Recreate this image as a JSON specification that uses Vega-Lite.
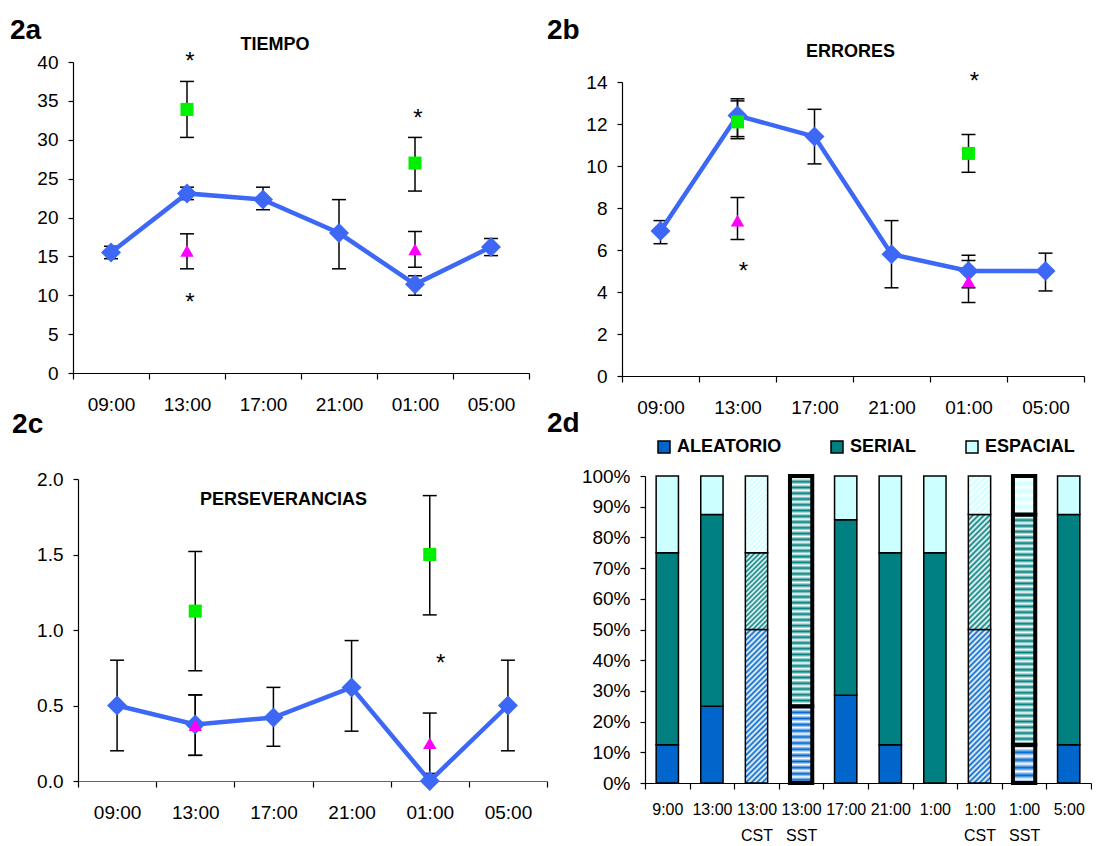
{
  "$schema": "https://vega.github.io/schema/vega-lite/v6.json",
  "background": "white",
  "padding": {"left": 10, "top": 16, "right": 0, "bottom": 0},
  "config": {
    "font": "Liberation Sans",
    "view": {"stroke": null},
    "axis": {"grid": false, "domainColor": "#000", "tickColor": "#000", "labelColor": "#000", "labelFont": "Liberation Sans", "labelFontSize": 19, "tickSize": 5, "labelPadding": 10, "title": null, "domainWidth": 1.2, "tickWidth": 1.2},
    "axisX": {"labelAngle": 0, "tickBand": "extent", "tickSize": 6, "labelPadding": 16}
  },
  "datasets": {
    "tiempo": [
      {"hora": "09:00", "serie": "Global", "media": 15.5, "lo": 14.7, "hi": 16.3},
      {"hora": "13:00", "serie": "Global", "media": 23.1, "lo": 22.3, "hi": 23.9},
      {"hora": "17:00", "serie": "Global", "media": 22.3, "lo": 21.0, "hi": 23.9},
      {"hora": "21:00", "serie": "Global", "media": 18.0, "lo": 13.4, "hi": 22.3},
      {"hora": "01:00", "serie": "Global", "media": 11.4, "lo": 10.0, "hi": 12.5},
      {"hora": "05:00", "serie": "Global", "media": 16.2, "lo": 15.1, "hi": 17.3},
      {"hora": "13:00", "serie": "CST", "media": 33.9, "lo": 30.3, "hi": 37.5},
      {"hora": "01:00", "serie": "CST", "media": 27.0, "lo": 23.4, "hi": 30.3},
      {"hora": "13:00", "serie": "SST", "media": 15.7, "lo": 13.4, "hi": 17.9},
      {"hora": "01:00", "serie": "SST", "media": 15.9, "lo": 13.6, "hi": 18.2}
    ],
    "tiempo_ast": [
      {"hora": "13:00", "y": 40.7, "t": "*"},
      {"hora": "13:00", "y": 9.7, "t": "*"},
      {"hora": "01:00", "y": 33.3, "t": "*"}
    ],
    "errores": [
      {"hora": "09:00", "serie": "Global", "media": 6.9, "lo": 6.3, "hi": 7.4},
      {"hora": "13:00", "serie": "Global", "media": 12.4, "lo": 11.4, "hi": 13.2},
      {"hora": "17:00", "serie": "Global", "media": 11.4, "lo": 10.1, "hi": 12.7},
      {"hora": "21:00", "serie": "Global", "media": 5.8, "lo": 4.2, "hi": 7.4},
      {"hora": "01:00", "serie": "Global", "media": 5.0, "lo": 4.2, "hi": 5.75},
      {"hora": "05:00", "serie": "Global", "media": 5.0, "lo": 4.05, "hi": 5.85},
      {"hora": "13:00", "serie": "CST", "media": 12.1, "lo": 11.3, "hi": 13.1},
      {"hora": "01:00", "serie": "CST", "media": 10.6, "lo": 9.7, "hi": 11.5},
      {"hora": "13:00", "serie": "SST", "media": 7.4, "lo": 6.5, "hi": 8.5},
      {"hora": "01:00", "serie": "SST", "media": 4.5, "lo": 3.5, "hi": 5.5}
    ],
    "errores_ast": [
      {"hora": "01:00", "y": 14.25, "t": "*"},
      {"hora": "13:00", "y": 5.2, "t": "*"}
    ],
    "persev": [
      {"hora": "09:00", "serie": "Global", "media": 0.5, "lo": 0.2, "hi": 0.8},
      {"hora": "13:00", "serie": "Global", "media": 0.375, "lo": 0.17, "hi": 0.57},
      {"hora": "17:00", "serie": "Global", "media": 0.42, "lo": 0.23, "hi": 0.62},
      {"hora": "21:00", "serie": "Global", "media": 0.62, "lo": 0.33, "hi": 0.93},
      {"hora": "01:00", "serie": "Global", "media": 0.0, "lo": 0.0, "hi": 0.0},
      {"hora": "05:00", "serie": "Global", "media": 0.5, "lo": 0.2, "hi": 0.8},
      {"hora": "13:00", "serie": "CST", "media": 1.125, "lo": 0.73, "hi": 1.52},
      {"hora": "01:00", "serie": "CST", "media": 1.5, "lo": 1.1, "hi": 1.89},
      {"hora": "13:00", "serie": "SST", "media": 0.37, "lo": 0.17, "hi": 0.57},
      {"hora": "01:00", "serie": "SST", "media": 0.25, "lo": 0.05, "hi": 0.45}
    ],
    "persev_ast": [
      {"hora": "01:00", "y": 0.81, "t": "*"}
    ],
    "patrones": [
      {"cat": "9:00", "tipo": "ALEATORIO", "valor": 0.125},
      {"cat": "9:00", "tipo": "SERIAL", "valor": 0.625},
      {"cat": "9:00", "tipo": "ESPACIAL", "valor": 0.25},
      {"cat": "13:00", "tipo": "ALEATORIO", "valor": 0.25},
      {"cat": "13:00", "tipo": "SERIAL", "valor": 0.625},
      {"cat": "13:00", "tipo": "ESPACIAL", "valor": 0.125},
      {"cat": "13:00 CST", "tipo": "ALEATORIO", "valor": 0.5},
      {"cat": "13:00 CST", "tipo": "SERIAL", "valor": 0.25},
      {"cat": "13:00 CST", "tipo": "ESPACIAL", "valor": 0.25},
      {"cat": "13:00 SST", "tipo": "ALEATORIO", "valor": 0.25},
      {"cat": "13:00 SST", "tipo": "SERIAL", "valor": 0.75},
      {"cat": "17:00", "tipo": "ALEATORIO", "valor": 0.2857},
      {"cat": "17:00", "tipo": "SERIAL", "valor": 0.5714},
      {"cat": "17:00", "tipo": "ESPACIAL", "valor": 0.1429},
      {"cat": "21:00", "tipo": "ALEATORIO", "valor": 0.125},
      {"cat": "21:00", "tipo": "SERIAL", "valor": 0.625},
      {"cat": "21:00", "tipo": "ESPACIAL", "valor": 0.25},
      {"cat": "1:00", "tipo": "SERIAL", "valor": 0.75},
      {"cat": "1:00", "tipo": "ESPACIAL", "valor": 0.25},
      {"cat": "1:00 CST", "tipo": "ALEATORIO", "valor": 0.5},
      {"cat": "1:00 CST", "tipo": "SERIAL", "valor": 0.375},
      {"cat": "1:00 CST", "tipo": "ESPACIAL", "valor": 0.125},
      {"cat": "1:00 SST", "tipo": "ALEATORIO", "valor": 0.125},
      {"cat": "1:00 SST", "tipo": "SERIAL", "valor": 0.75},
      {"cat": "1:00 SST", "tipo": "ESPACIAL", "valor": 0.125},
      {"cat": "5:00", "tipo": "ALEATORIO", "valor": 0.125},
      {"cat": "5:00", "tipo": "SERIAL", "valor": 0.75},
      {"cat": "5:00", "tipo": "ESPACIAL", "valor": 0.125}
    ]
  },
  "columns": 2,
  "align": "none",
  "spacing": {"row": -7, "column": -1},
  "resolve": {"scale": {"color": "independent"}, "legend": {"color": "independent"}},
  "concat": [
    {
      "width": 456, "height": 311,
      "data": {"name": "tiempo"},
      "encoding": {
        "x": {"field": "hora", "type": "nominal", "sort": ["09:00", "13:00", "17:00", "21:00", "01:00", "05:00"], "scale": {"type": "band", "paddingInner": 0, "paddingOuter": 0}}
      },
      "layer": [
        {"mark": {"type": "rule", "color": "#000", "strokeWidth": 1.5},
         "encoding": {"y": {"field": "lo", "type": "quantitative", "scale": {"domain": [0, 40], "nice": false}, "axis": {"values": [0, 5, 10, 15, 20, 25, 30, 35, 40]}}, "y2": {"field": "hi"}}},
        {"mark": {"type": "tick", "color": "#000", "thickness": 1.5, "size": 14, "opacity": 1}, "encoding": {"y": {"field": "lo", "type": "quantitative", "scale": {"domain": [0, 40], "nice": false}, "axis": {"values": [0, 5, 10, 15, 20, 25, 30, 35, 40]}}}},
        {"mark": {"type": "tick", "color": "#000", "thickness": 1.5, "size": 14, "opacity": 1}, "encoding": {"y": {"field": "hi", "type": "quantitative", "scale": {"domain": [0, 40], "nice": false}, "axis": {"values": [0, 5, 10, 15, 20, 25, 30, 35, 40]}}}},
        {"transform": [{"filter": "datum.serie == 'Global'"}], "mark": {"type": "line", "color": "#3D68F5", "strokeWidth": 4.5}, "encoding": {"y": {"field": "media", "type": "quantitative", "scale": {"domain": [0, 40], "nice": false}, "axis": {"values": [0, 5, 10, 15, 20, 25, 30, 35, 40]}}}},
        {"transform": [{"filter": "datum.serie == 'Global'"}], "mark": {"type": "point", "shape": "diamond", "filled": true, "opacity": 1, "color": "#3D68F5", "size": 400}, "encoding": {"y": {"field": "media", "type": "quantitative", "scale": {"domain": [0, 40], "nice": false}, "axis": {"values": [0, 5, 10, 15, 20, 25, 30, 35, 40]}}}},
        {"transform": [{"filter": "datum.serie == 'CST'"}], "mark": {"type": "point", "shape": "square", "filled": true, "opacity": 1, "color": "#00F000", "size": 170}, "encoding": {"y": {"field": "media", "type": "quantitative", "scale": {"domain": [0, 40], "nice": false}, "axis": {"values": [0, 5, 10, 15, 20, 25, 30, 35, 40]}}}},
        {"transform": [{"filter": "datum.serie == 'SST'"}], "mark": {"type": "point", "shape": "triangle-up", "filled": true, "opacity": 1, "color": "#FF00FF", "size": 180}, "encoding": {"y": {"field": "media", "type": "quantitative", "scale": {"domain": [0, 40], "nice": false}, "axis": {"values": [0, 5, 10, 15, 20, 25, 30, 35, 40]}}}},
        {"data": {"name": "tiempo_ast"}, "mark": {"type": "text", "fontSize": 24, "dx": 3, "dy": 12, "baseline": "alphabetic", "color": "#000"}, "encoding": {"y": {"field": "y", "type": "quantitative", "scale": {"domain": [0, 40], "nice": false}, "axis": {"values": [0, 5, 10, 15, 20, 25, 30, 35, 40]}}, "text": {"field": "t"}}},
        {"data": {"values": [{"hora": "17:00", "y": 42.2, "t": "TIEMPO"}]}, "mark": {"type": "text", "fontSize": 18, "fontWeight": "bold", "dx": 12, "baseline": "middle", "color": "#000"}, "encoding": {"y": {"field": "y", "type": "quantitative", "scale": {"domain": [0, 40], "nice": false}, "axis": {"values": [0, 5, 10, 15, 20, 25, 30, 35, 40]}}, "text": {"field": "t"}}},
        {"data": {"values": [{"hora": "09:00", "y": 43.02, "t": "2a"}]}, "mark": {"type": "text", "fontSize": 28, "fontWeight": "bold", "align": "left", "dx": -101, "baseline": "alphabetic", "color": "#000"}, "encoding": {"y": {"field": "y", "type": "quantitative", "scale": {"domain": [0, 40], "nice": false}, "axis": {"values": [0, 5, 10, 15, 20, 25, 30, 35, 40]}}, "text": {"field": "t"}}}
      ]
    },
    {
      "width": 462, "height": 314,
      "data": {"name": "errores"},
      "encoding": {
        "x": {"field": "hora", "type": "nominal", "sort": ["09:00", "13:00", "17:00", "21:00", "01:00", "05:00"], "scale": {"type": "band", "paddingInner": 0, "paddingOuter": 0}}
      },
      "layer": [
        {"mark": {"type": "rule", "color": "#000", "strokeWidth": 1.5},
         "encoding": {"y": {"field": "lo", "type": "quantitative", "scale": {"domain": [0, 14], "nice": false, "range": [314, 20]}, "axis": {"values": [0, 2, 4, 6, 8, 10, 12, 14]}}, "y2": {"field": "hi"}}},
        {"mark": {"type": "tick", "color": "#000", "thickness": 1.5, "size": 14, "opacity": 1}, "encoding": {"y": {"field": "lo", "type": "quantitative", "scale": {"domain": [0, 14], "nice": false, "range": [314, 20]}, "axis": {"values": [0, 2, 4, 6, 8, 10, 12, 14]}}}},
        {"mark": {"type": "tick", "color": "#000", "thickness": 1.5, "size": 14, "opacity": 1}, "encoding": {"y": {"field": "hi", "type": "quantitative", "scale": {"domain": [0, 14], "nice": false, "range": [314, 20]}, "axis": {"values": [0, 2, 4, 6, 8, 10, 12, 14]}}}},
        {"transform": [{"filter": "datum.serie == 'Global'"}], "mark": {"type": "line", "color": "#3D68F5", "strokeWidth": 4.5}, "encoding": {"y": {"field": "media", "type": "quantitative", "scale": {"domain": [0, 14], "nice": false, "range": [314, 20]}, "axis": {"values": [0, 2, 4, 6, 8, 10, 12, 14]}}}},
        {"transform": [{"filter": "datum.serie == 'Global'"}], "mark": {"type": "point", "shape": "diamond", "filled": true, "opacity": 1, "color": "#3D68F5", "size": 400}, "encoding": {"y": {"field": "media", "type": "quantitative", "scale": {"domain": [0, 14], "nice": false, "range": [314, 20]}, "axis": {"values": [0, 2, 4, 6, 8, 10, 12, 14]}}}},
        {"transform": [{"filter": "datum.serie == 'CST'"}], "mark": {"type": "point", "shape": "square", "filled": true, "opacity": 1, "color": "#00F000", "size": 170}, "encoding": {"y": {"field": "media", "type": "quantitative", "scale": {"domain": [0, 14], "nice": false, "range": [314, 20]}, "axis": {"values": [0, 2, 4, 6, 8, 10, 12, 14]}}}},
        {"transform": [{"filter": "datum.serie == 'SST'"}], "mark": {"type": "point", "shape": "triangle-up", "filled": true, "opacity": 1, "color": "#FF00FF", "size": 180}, "encoding": {"y": {"field": "media", "type": "quantitative", "scale": {"domain": [0, 14], "nice": false, "range": [314, 20]}, "axis": {"values": [0, 2, 4, 6, 8, 10, 12, 14]}}}},
        {"data": {"name": "errores_ast"}, "mark": {"type": "text", "fontSize": 24, "dx": 6, "dy": 12, "baseline": "alphabetic", "color": "#000"}, "encoding": {"y": {"field": "y", "type": "quantitative", "scale": {"domain": [0, 14], "nice": false, "range": [314, 20]}, "axis": {"values": [0, 2, 4, 6, 8, 10, 12, 14]}}, "text": {"field": "t"}}},
        {"data": {"values": [{"hora": "17:00", "y": 15.43, "t": "ERRORES"}]}, "mark": {"type": "text", "fontSize": 18, "fontWeight": "bold", "dx": 36, "baseline": "middle", "color": "#000"}, "encoding": {"y": {"field": "y", "type": "quantitative", "scale": {"domain": [0, 14], "nice": false, "range": [314, 20]}, "axis": {"values": [0, 2, 4, 6, 8, 10, 12, 14]}}, "text": {"field": "t"}}},
        {"data": {"values": [{"hora": "09:00", "y": 16.07, "t": "2b"}]}, "mark": {"type": "text", "fontSize": 28, "fontWeight": "bold", "align": "left", "dx": -113.5, "baseline": "alphabetic", "color": "#000"}, "encoding": {"y": {"field": "y", "type": "quantitative", "scale": {"domain": [0, 14], "nice": false, "range": [314, 20]}, "axis": {"values": [0, 2, 4, 6, 8, 10, 12, 14]}}, "text": {"field": "t"}}}
      ]
    },
    {
      "width": 474, "height": 304,
      "data": {"name": "persev"},
      "encoding": {
        "x": {"field": "hora", "type": "nominal", "sort": ["09:00", "13:00", "17:00", "21:00", "01:00", "05:00"], "scale": {"type": "band", "paddingInner": 0, "paddingOuter": 0, "range": [5, 474]}, "axis": {"domainColor": "#666"}}
      },
      "layer": [
        {"mark": {"type": "rule", "color": "#000", "strokeWidth": 1.5},
         "encoding": {"y": {"field": "lo", "type": "quantitative", "scale": {"domain": [0, 2], "nice": false, "range": [304, 2]}, "axis": {"values": [0, 0.5, 1, 1.5, 2], "format": ".1f", "offset": -5}}, "y2": {"field": "hi"}}},
        {"mark": {"type": "tick", "color": "#000", "thickness": 1.5, "size": 14, "opacity": 1}, "encoding": {"y": {"field": "lo", "type": "quantitative", "scale": {"domain": [0, 2], "nice": false, "range": [304, 2]}, "axis": {"values": [0, 0.5, 1, 1.5, 2], "format": ".1f", "offset": -5}}}},
        {"mark": {"type": "tick", "color": "#000", "thickness": 1.5, "size": 14, "opacity": 1}, "encoding": {"y": {"field": "hi", "type": "quantitative", "scale": {"domain": [0, 2], "nice": false, "range": [304, 2]}, "axis": {"values": [0, 0.5, 1, 1.5, 2], "format": ".1f", "offset": -5}}}},
        {"transform": [{"filter": "datum.serie == 'Global'"}], "mark": {"type": "line", "color": "#3D68F5", "strokeWidth": 4.5}, "encoding": {"y": {"field": "media", "type": "quantitative", "scale": {"domain": [0, 2], "nice": false, "range": [304, 2]}, "axis": {"values": [0, 0.5, 1, 1.5, 2], "format": ".1f", "offset": -5}}}},
        {"transform": [{"filter": "datum.serie == 'Global'"}], "mark": {"type": "point", "shape": "diamond", "filled": true, "opacity": 1, "color": "#3D68F5", "size": 400}, "encoding": {"y": {"field": "media", "type": "quantitative", "scale": {"domain": [0, 2], "nice": false, "range": [304, 2]}, "axis": {"values": [0, 0.5, 1, 1.5, 2], "format": ".1f", "offset": -5}}}},
        {"transform": [{"filter": "datum.serie == 'CST'"}], "mark": {"type": "point", "shape": "square", "filled": true, "opacity": 1, "color": "#00F000", "size": 170}, "encoding": {"y": {"field": "media", "type": "quantitative", "scale": {"domain": [0, 2], "nice": false, "range": [304, 2]}, "axis": {"values": [0, 0.5, 1, 1.5, 2], "format": ".1f", "offset": -5}}}},
        {"transform": [{"filter": "datum.serie == 'SST'"}], "mark": {"type": "point", "shape": "triangle-up", "filled": true, "opacity": 1, "color": "#FF00FF", "size": 180}, "encoding": {"y": {"field": "media", "type": "quantitative", "scale": {"domain": [0, 2], "nice": false, "range": [304, 2]}, "axis": {"values": [0, 0.5, 1, 1.5, 2], "format": ".1f", "offset": -5}}}},
        {"data": {"name": "persev_ast"}, "mark": {"type": "text", "fontSize": 24, "dx": 11, "dy": 12, "baseline": "alphabetic", "color": "#000"}, "encoding": {"y": {"field": "y", "type": "quantitative", "scale": {"domain": [0, 2], "nice": false, "range": [304, 2]}, "axis": {"values": [0, 0.5, 1, 1.5, 2], "format": ".1f", "offset": -5}}, "text": {"field": "t"}}},
        {"data": {"values": [{"hora": "17:00", "y": 1.861, "t": "PERSEVERANCIAS"}]}, "mark": {"type": "text", "fontSize": 18, "fontWeight": "bold", "dx": 10, "baseline": "middle", "color": "#000"}, "encoding": {"y": {"field": "y", "type": "quantitative", "scale": {"domain": [0, 2], "nice": false, "range": [304, 2]}, "axis": {"values": [0, 0.5, 1, 1.5, 2], "format": ".1f", "offset": -5}}, "text": {"field": "t"}}},
        {"data": {"values": [{"hora": "09:00", "y": 2.305, "t": "2c"}]}, "mark": {"type": "text", "fontSize": 28, "fontWeight": "bold", "align": "left", "dx": -105, "baseline": "alphabetic", "color": "#000"}, "encoding": {"y": {"field": "y", "type": "quantitative", "scale": {"domain": [0, 2], "nice": false, "range": [304, 2]}, "axis": {"values": [0, 0.5, 1, 1.5, 2], "format": ".1f", "offset": -5}}, "text": {"field": "t"}}}
      ]
    },
    {
      "width": 469, "height": 307,
      "encoding": {
        "x": {"field": "cat", "type": "nominal", "sort": ["9:00", "13:00", "13:00 CST", "13:00 SST", "17:00", "21:00", "1:00", "1:00 CST", "1:00 SST", "5:00"], "scale": {"type": "band", "paddingInner": 0, "paddingOuter": 0, "range": [23, 469]},
              "axis": {"labelExpr": "split(datum.label, ' ')", "labelFontSize": 16, "labelLineHeight": 26, "labelPadding": 12}}
      },
      "layer": [
        {
          "data": {"name": "patrones"},
          "transform": [{"calculate": "indexof(['ALEATORIO', 'SERIAL', 'ESPACIAL'], datum.tipo)", "as": "orden"}],
          "mark": {"type": "bar", "stroke": "#000", "width": {"band": 0.5}},
          "encoding": {
            "y": {"field": "valor", "type": "quantitative", "stack": "normalize", "scale": {"domain": [0, 1], "nice": false},
                  "axis": {"format": ".0%", "values": [0, 0.1, 0.2, 0.3, 0.4, 0.5, 0.6, 0.7, 0.8, 0.9, 1], "offset": -23}},
            "order": {"field": "orden", "type": "quantitative", "sort": "ascending"},
            "color": {
              "condition": [
                {"test": "datum.cat == '13:00 SST' && datum.tipo == 'ALEATORIO'", "value": {"gradient": "linear", "x1": 0, "y1": 0, "x2": 0, "y2": 1, "stops": [
                  {"offset": 0, "color": "#0066CC"}, {"offset": 0.04, "color": "#FFFFFF"}, {"offset": 0.08, "color": "#0066CC"}, {"offset": 0.12, "color": "#FFFFFF"}, {"offset": 0.16, "color": "#0066CC"}, {"offset": 0.2, "color": "#FFFFFF"}, {"offset": 0.24, "color": "#0066CC"}, {"offset": 0.28, "color": "#FFFFFF"}, {"offset": 0.32, "color": "#0066CC"}, {"offset": 0.36, "color": "#FFFFFF"}, {"offset": 0.4, "color": "#0066CC"}, {"offset": 0.44, "color": "#FFFFFF"}, {"offset": 0.48, "color": "#0066CC"}, {"offset": 0.52, "color": "#FFFFFF"}, {"offset": 0.56, "color": "#0066CC"}, {"offset": 0.6, "color": "#FFFFFF"}, {"offset": 0.64, "color": "#0066CC"}, {"offset": 0.68, "color": "#FFFFFF"}, {"offset": 0.72, "color": "#0066CC"}, {"offset": 0.76, "color": "#FFFFFF"}, {"offset": 0.8, "color": "#0066CC"}, {"offset": 0.84, "color": "#FFFFFF"}, {"offset": 0.88, "color": "#0066CC"}, {"offset": 0.92, "color": "#FFFFFF"}, {"offset": 0.96, "color": "#0066CC"}, {"offset": 1, "color": "#FFFFFF"}]}},
                {"test": "datum.cat == '1:00 SST' && datum.tipo == 'ALEATORIO'", "value": {"gradient": "linear", "x1": 0, "y1": 0, "x2": 0, "y2": 1, "stops": [
                  {"offset": 0, "color": "#0066CC"}, {"offset": 0.1, "color": "#FFFFFF"}, {"offset": 0.2, "color": "#0066CC"}, {"offset": 0.3, "color": "#FFFFFF"}, {"offset": 0.4, "color": "#0066CC"}, {"offset": 0.5, "color": "#FFFFFF"}, {"offset": 0.6, "color": "#0066CC"}, {"offset": 0.7, "color": "#FFFFFF"}, {"offset": 0.8, "color": "#0066CC"}, {"offset": 0.9, "color": "#FFFFFF"}, {"offset": 1, "color": "#0066CC"}]}},
                {"test": "datum.cat == '1:00 SST' && datum.tipo == 'ESPACIAL'", "value": {"gradient": "linear", "x1": 0, "y1": 0, "x2": 0, "y2": 1, "stops": [
                  {"offset": 0, "color": "#CCFFFF"}, {"offset": 0.1, "color": "#FFFFFF"}, {"offset": 0.2, "color": "#CCFFFF"}, {"offset": 0.3, "color": "#FFFFFF"}, {"offset": 0.4, "color": "#CCFFFF"}, {"offset": 0.5, "color": "#FFFFFF"}, {"offset": 0.6, "color": "#CCFFFF"}, {"offset": 0.7, "color": "#FFFFFF"}, {"offset": 0.8, "color": "#CCFFFF"}, {"offset": 0.9, "color": "#FFFFFF"}, {"offset": 1, "color": "#CCFFFF"}]}},
                {"test": "indexof(datum.cat, 'SST') >= 0 && datum.tipo == 'SERIAL'", "value": {"gradient": "linear", "x1": 0, "y1": 0, "x2": 0, "y2": 1, "stops": [
                  {"offset": 0, "color": "#008080"}, {"offset": 0.0125, "color": "#FFFFFF"}, {"offset": 0.025, "color": "#008080"}, {"offset": 0.0375, "color": "#FFFFFF"}, {"offset": 0.05, "color": "#008080"}, {"offset": 0.0625, "color": "#FFFFFF"}, {"offset": 0.075, "color": "#008080"}, {"offset": 0.0875, "color": "#FFFFFF"}, {"offset": 0.1, "color": "#008080"}, {"offset": 0.1125, "color": "#FFFFFF"},
                  {"offset": 0.125, "color": "#008080"}, {"offset": 0.1375, "color": "#FFFFFF"}, {"offset": 0.15, "color": "#008080"}, {"offset": 0.1625, "color": "#FFFFFF"}, {"offset": 0.175, "color": "#008080"}, {"offset": 0.1875, "color": "#FFFFFF"}, {"offset": 0.2, "color": "#008080"}, {"offset": 0.2125, "color": "#FFFFFF"}, {"offset": 0.225, "color": "#008080"}, {"offset": 0.2375, "color": "#FFFFFF"},
                  {"offset": 0.25, "color": "#008080"}, {"offset": 0.2625, "color": "#FFFFFF"}, {"offset": 0.275, "color": "#008080"}, {"offset": 0.2875, "color": "#FFFFFF"}, {"offset": 0.3, "color": "#008080"}, {"offset": 0.3125, "color": "#FFFFFF"}, {"offset": 0.325, "color": "#008080"}, {"offset": 0.3375, "color": "#FFFFFF"}, {"offset": 0.35, "color": "#008080"}, {"offset": 0.3625, "color": "#FFFFFF"},
                  {"offset": 0.375, "color": "#008080"}, {"offset": 0.3875, "color": "#FFFFFF"}, {"offset": 0.4, "color": "#008080"}, {"offset": 0.4125, "color": "#FFFFFF"}, {"offset": 0.425, "color": "#008080"}, {"offset": 0.4375, "color": "#FFFFFF"}, {"offset": 0.45, "color": "#008080"}, {"offset": 0.4625, "color": "#FFFFFF"}, {"offset": 0.475, "color": "#008080"}, {"offset": 0.4875, "color": "#FFFFFF"},
                  {"offset": 0.5, "color": "#008080"}, {"offset": 0.5125, "color": "#FFFFFF"}, {"offset": 0.525, "color": "#008080"}, {"offset": 0.5375, "color": "#FFFFFF"}, {"offset": 0.55, "color": "#008080"}, {"offset": 0.5625, "color": "#FFFFFF"}, {"offset": 0.575, "color": "#008080"}, {"offset": 0.5875, "color": "#FFFFFF"}, {"offset": 0.6, "color": "#008080"}, {"offset": 0.6125, "color": "#FFFFFF"},
                  {"offset": 0.625, "color": "#008080"}, {"offset": 0.6375, "color": "#FFFFFF"}, {"offset": 0.65, "color": "#008080"}, {"offset": 0.6625, "color": "#FFFFFF"}, {"offset": 0.675, "color": "#008080"}, {"offset": 0.6875, "color": "#FFFFFF"}, {"offset": 0.7, "color": "#008080"}, {"offset": 0.7125, "color": "#FFFFFF"}, {"offset": 0.725, "color": "#008080"}, {"offset": 0.7375, "color": "#FFFFFF"},
                  {"offset": 0.75, "color": "#008080"}, {"offset": 0.7625, "color": "#FFFFFF"}, {"offset": 0.775, "color": "#008080"}, {"offset": 0.7875, "color": "#FFFFFF"}, {"offset": 0.8, "color": "#008080"}, {"offset": 0.8125, "color": "#FFFFFF"}, {"offset": 0.825, "color": "#008080"}, {"offset": 0.8375, "color": "#FFFFFF"}, {"offset": 0.85, "color": "#008080"}, {"offset": 0.8625, "color": "#FFFFFF"},
                  {"offset": 0.875, "color": "#008080"}, {"offset": 0.8875, "color": "#FFFFFF"}, {"offset": 0.9, "color": "#008080"}, {"offset": 0.9125, "color": "#FFFFFF"}, {"offset": 0.925, "color": "#008080"}, {"offset": 0.9375, "color": "#FFFFFF"}, {"offset": 0.95, "color": "#008080"}, {"offset": 0.9625, "color": "#FFFFFF"}, {"offset": 0.975, "color": "#008080"}, {"offset": 0.9875, "color": "#FFFFFF"}, {"offset": 1, "color": "#008080"}]}},
                {"test": "indexof(datum.cat, 'CST') >= 0 && datum.tipo == 'ALEATORIO'", "value": {"gradient": "linear", "x1": 0, "y1": 0, "x2": 0.163, "y2": 1.12, "stops": [
                  {"offset": 0, "color": "#0066CC"}, {"offset": 0.015625, "color": "#FFFFFF"}, {"offset": 0.03125, "color": "#0066CC"}, {"offset": 0.046875, "color": "#FFFFFF"}, {"offset": 0.0625, "color": "#0066CC"}, {"offset": 0.078125, "color": "#FFFFFF"}, {"offset": 0.09375, "color": "#0066CC"}, {"offset": 0.109375, "color": "#FFFFFF"},
                  {"offset": 0.125, "color": "#0066CC"}, {"offset": 0.140625, "color": "#FFFFFF"}, {"offset": 0.15625, "color": "#0066CC"}, {"offset": 0.171875, "color": "#FFFFFF"}, {"offset": 0.1875, "color": "#0066CC"}, {"offset": 0.203125, "color": "#FFFFFF"}, {"offset": 0.21875, "color": "#0066CC"}, {"offset": 0.234375, "color": "#FFFFFF"},
                  {"offset": 0.25, "color": "#0066CC"}, {"offset": 0.265625, "color": "#FFFFFF"}, {"offset": 0.28125, "color": "#0066CC"}, {"offset": 0.296875, "color": "#FFFFFF"}, {"offset": 0.3125, "color": "#0066CC"}, {"offset": 0.328125, "color": "#FFFFFF"}, {"offset": 0.34375, "color": "#0066CC"}, {"offset": 0.359375, "color": "#FFFFFF"},
                  {"offset": 0.375, "color": "#0066CC"}, {"offset": 0.390625, "color": "#FFFFFF"}, {"offset": 0.40625, "color": "#0066CC"}, {"offset": 0.421875, "color": "#FFFFFF"}, {"offset": 0.4375, "color": "#0066CC"}, {"offset": 0.453125, "color": "#FFFFFF"}, {"offset": 0.46875, "color": "#0066CC"}, {"offset": 0.484375, "color": "#FFFFFF"},
                  {"offset": 0.5, "color": "#0066CC"}, {"offset": 0.515625, "color": "#FFFFFF"}, {"offset": 0.53125, "color": "#0066CC"}, {"offset": 0.546875, "color": "#FFFFFF"}, {"offset": 0.5625, "color": "#0066CC"}, {"offset": 0.578125, "color": "#FFFFFF"}, {"offset": 0.59375, "color": "#0066CC"}, {"offset": 0.609375, "color": "#FFFFFF"},
                  {"offset": 0.625, "color": "#0066CC"}, {"offset": 0.640625, "color": "#FFFFFF"}, {"offset": 0.65625, "color": "#0066CC"}, {"offset": 0.671875, "color": "#FFFFFF"}, {"offset": 0.6875, "color": "#0066CC"}, {"offset": 0.703125, "color": "#FFFFFF"}, {"offset": 0.71875, "color": "#0066CC"}, {"offset": 0.734375, "color": "#FFFFFF"},
                  {"offset": 0.75, "color": "#0066CC"}, {"offset": 0.765625, "color": "#FFFFFF"}, {"offset": 0.78125, "color": "#0066CC"}, {"offset": 0.796875, "color": "#FFFFFF"}, {"offset": 0.8125, "color": "#0066CC"}, {"offset": 0.828125, "color": "#FFFFFF"}, {"offset": 0.84375, "color": "#0066CC"}, {"offset": 0.859375, "color": "#FFFFFF"},
                  {"offset": 0.875, "color": "#0066CC"}, {"offset": 0.890625, "color": "#FFFFFF"}, {"offset": 0.90625, "color": "#0066CC"}, {"offset": 0.921875, "color": "#FFFFFF"}, {"offset": 0.9375, "color": "#0066CC"}, {"offset": 0.953125, "color": "#FFFFFF"}, {"offset": 0.96875, "color": "#0066CC"}, {"offset": 0.984375, "color": "#FFFFFF"}, {"offset": 1, "color": "#0066CC"}]}},
                {"test": "datum.cat == '13:00 CST' && datum.tipo == 'SERIAL'", "value": {"gradient": "linear", "x1": 0, "y1": 0, "x2": 0.346, "y2": 1.189, "stops": [
                  {"offset": 0, "color": "#008080"}, {"offset": 0.025, "color": "#FFFFFF"}, {"offset": 0.05, "color": "#008080"}, {"offset": 0.075, "color": "#FFFFFF"}, {"offset": 0.1, "color": "#008080"}, {"offset": 0.125, "color": "#FFFFFF"}, {"offset": 0.15, "color": "#008080"}, {"offset": 0.175, "color": "#FFFFFF"}, {"offset": 0.2, "color": "#008080"}, {"offset": 0.225, "color": "#FFFFFF"},
                  {"offset": 0.25, "color": "#008080"}, {"offset": 0.275, "color": "#FFFFFF"}, {"offset": 0.3, "color": "#008080"}, {"offset": 0.325, "color": "#FFFFFF"}, {"offset": 0.35, "color": "#008080"}, {"offset": 0.375, "color": "#FFFFFF"}, {"offset": 0.4, "color": "#008080"}, {"offset": 0.425, "color": "#FFFFFF"}, {"offset": 0.45, "color": "#008080"}, {"offset": 0.475, "color": "#FFFFFF"},
                  {"offset": 0.5, "color": "#008080"}, {"offset": 0.525, "color": "#FFFFFF"}, {"offset": 0.55, "color": "#008080"}, {"offset": 0.575, "color": "#FFFFFF"}, {"offset": 0.6, "color": "#008080"}, {"offset": 0.625, "color": "#FFFFFF"}, {"offset": 0.65, "color": "#008080"}, {"offset": 0.675, "color": "#FFFFFF"}, {"offset": 0.7, "color": "#008080"}, {"offset": 0.725, "color": "#FFFFFF"},
                  {"offset": 0.75, "color": "#008080"}, {"offset": 0.775, "color": "#FFFFFF"}, {"offset": 0.8, "color": "#008080"}, {"offset": 0.825, "color": "#FFFFFF"}, {"offset": 0.85, "color": "#008080"}, {"offset": 0.875, "color": "#FFFFFF"}, {"offset": 0.9, "color": "#008080"}, {"offset": 0.925, "color": "#FFFFFF"}, {"offset": 0.95, "color": "#008080"}, {"offset": 0.975, "color": "#FFFFFF"}, {"offset": 1, "color": "#008080"}]}},
                {"test": "datum.cat == '13:00 CST' && datum.tipo == 'ESPACIAL'", "value": {"gradient": "linear", "x1": 0, "y1": 0, "x2": 0.346, "y2": 1.189, "stops": [
                  {"offset": 0, "color": "#CCFFFF"}, {"offset": 0.025, "color": "#FFFFFF"}, {"offset": 0.05, "color": "#CCFFFF"}, {"offset": 0.075, "color": "#FFFFFF"}, {"offset": 0.1, "color": "#CCFFFF"}, {"offset": 0.125, "color": "#FFFFFF"}, {"offset": 0.15, "color": "#CCFFFF"}, {"offset": 0.175, "color": "#FFFFFF"}, {"offset": 0.2, "color": "#CCFFFF"}, {"offset": 0.225, "color": "#FFFFFF"},
                  {"offset": 0.25, "color": "#CCFFFF"}, {"offset": 0.275, "color": "#FFFFFF"}, {"offset": 0.3, "color": "#CCFFFF"}, {"offset": 0.325, "color": "#FFFFFF"}, {"offset": 0.35, "color": "#CCFFFF"}, {"offset": 0.375, "color": "#FFFFFF"}, {"offset": 0.4, "color": "#CCFFFF"}, {"offset": 0.425, "color": "#FFFFFF"}, {"offset": 0.45, "color": "#CCFFFF"}, {"offset": 0.475, "color": "#FFFFFF"},
                  {"offset": 0.5, "color": "#CCFFFF"}, {"offset": 0.525, "color": "#FFFFFF"}, {"offset": 0.55, "color": "#CCFFFF"}, {"offset": 0.575, "color": "#FFFFFF"}, {"offset": 0.6, "color": "#CCFFFF"}, {"offset": 0.625, "color": "#FFFFFF"}, {"offset": 0.65, "color": "#CCFFFF"}, {"offset": 0.675, "color": "#FFFFFF"}, {"offset": 0.7, "color": "#CCFFFF"}, {"offset": 0.725, "color": "#FFFFFF"},
                  {"offset": 0.75, "color": "#CCFFFF"}, {"offset": 0.775, "color": "#FFFFFF"}, {"offset": 0.8, "color": "#CCFFFF"}, {"offset": 0.825, "color": "#FFFFFF"}, {"offset": 0.85, "color": "#CCFFFF"}, {"offset": 0.875, "color": "#FFFFFF"}, {"offset": 0.9, "color": "#CCFFFF"}, {"offset": 0.925, "color": "#FFFFFF"}, {"offset": 0.95, "color": "#CCFFFF"}, {"offset": 0.975, "color": "#FFFFFF"}, {"offset": 1, "color": "#CCFFFF"}]}},
                {"test": "datum.cat == '1:00 CST' && datum.tipo == 'SERIAL'", "value": {"gradient": "linear", "x1": 0, "y1": 0, "x2": 0.223, "y2": 1.152, "stops": [
                  {"offset": 0, "color": "#008080"}, {"offset": 0.02, "color": "#FFFFFF"}, {"offset": 0.04, "color": "#008080"}, {"offset": 0.06, "color": "#FFFFFF"}, {"offset": 0.08, "color": "#008080"}, {"offset": 0.1, "color": "#FFFFFF"}, {"offset": 0.12, "color": "#008080"}, {"offset": 0.14, "color": "#FFFFFF"}, {"offset": 0.16, "color": "#008080"}, {"offset": 0.18, "color": "#FFFFFF"},
                  {"offset": 0.2, "color": "#008080"}, {"offset": 0.22, "color": "#FFFFFF"}, {"offset": 0.24, "color": "#008080"}, {"offset": 0.26, "color": "#FFFFFF"}, {"offset": 0.28, "color": "#008080"}, {"offset": 0.3, "color": "#FFFFFF"}, {"offset": 0.32, "color": "#008080"}, {"offset": 0.34, "color": "#FFFFFF"}, {"offset": 0.36, "color": "#008080"}, {"offset": 0.38, "color": "#FFFFFF"},
                  {"offset": 0.4, "color": "#008080"}, {"offset": 0.42, "color": "#FFFFFF"}, {"offset": 0.44, "color": "#008080"}, {"offset": 0.46, "color": "#FFFFFF"}, {"offset": 0.48, "color": "#008080"}, {"offset": 0.5, "color": "#FFFFFF"}, {"offset": 0.52, "color": "#008080"}, {"offset": 0.54, "color": "#FFFFFF"}, {"offset": 0.56, "color": "#008080"}, {"offset": 0.58, "color": "#FFFFFF"},
                  {"offset": 0.6, "color": "#008080"}, {"offset": 0.62, "color": "#FFFFFF"}, {"offset": 0.64, "color": "#008080"}, {"offset": 0.66, "color": "#FFFFFF"}, {"offset": 0.68, "color": "#008080"}, {"offset": 0.7, "color": "#FFFFFF"}, {"offset": 0.72, "color": "#008080"}, {"offset": 0.74, "color": "#FFFFFF"}, {"offset": 0.76, "color": "#008080"}, {"offset": 0.78, "color": "#FFFFFF"},
                  {"offset": 0.8, "color": "#008080"}, {"offset": 0.82, "color": "#FFFFFF"}, {"offset": 0.84, "color": "#008080"}, {"offset": 0.86, "color": "#FFFFFF"}, {"offset": 0.88, "color": "#008080"}, {"offset": 0.9, "color": "#FFFFFF"}, {"offset": 0.92, "color": "#008080"}, {"offset": 0.94, "color": "#FFFFFF"}, {"offset": 0.96, "color": "#008080"}, {"offset": 0.98, "color": "#FFFFFF"}, {"offset": 1, "color": "#008080"}]}},
                {"test": "datum.cat == '1:00 CST' && datum.tipo == 'ESPACIAL'", "value": {"gradient": "linear", "x1": 0, "y1": 0, "x2": 0.687, "y2": 1.182, "stops": [
                  {"offset": 0, "color": "#CCFFFF"}, {"offset": 0.05, "color": "#FFFFFF"}, {"offset": 0.1, "color": "#CCFFFF"}, {"offset": 0.15, "color": "#FFFFFF"}, {"offset": 0.2, "color": "#CCFFFF"}, {"offset": 0.25, "color": "#FFFFFF"}, {"offset": 0.3, "color": "#CCFFFF"}, {"offset": 0.35, "color": "#FFFFFF"}, {"offset": 0.4, "color": "#CCFFFF"}, {"offset": 0.45, "color": "#FFFFFF"},
                  {"offset": 0.5, "color": "#CCFFFF"}, {"offset": 0.55, "color": "#FFFFFF"}, {"offset": 0.6, "color": "#CCFFFF"}, {"offset": 0.65, "color": "#FFFFFF"}, {"offset": 0.7, "color": "#CCFFFF"}, {"offset": 0.75, "color": "#FFFFFF"}, {"offset": 0.8, "color": "#CCFFFF"}, {"offset": 0.85, "color": "#FFFFFF"}, {"offset": 0.9, "color": "#CCFFFF"}, {"offset": 0.95, "color": "#FFFFFF"}, {"offset": 1, "color": "#CCFFFF"}]}}
              ],
              "field": "tipo", "type": "nominal",
              "scale": {"domain": ["ALEATORIO", "SERIAL", "ESPACIAL"], "range": ["#0066CC", "#008080", "#CCFFFF"]},
              "legend": {"orient": "none", "legendX": 33, "legendY": -38, "direction": "horizontal", "title": null, "padding": 0, "gridAlign": "none", "symbolType": "square", "symbolSize": 144, "symbolStrokeColor": "#000", "symbolStrokeWidth": 1.5, "symbolOpacity": 1, "labelFontSize": 18, "labelFontWeight": "bold", "labelFont": "Liberation Sans", "labelColor": "#000", "columnPadding": 46, "labelOffset": 4}
            },
            "strokeWidth": {"condition": {"test": "indexof(datum.cat, 'SST') >= 0", "value": 4}, "value": 1.5}
          }
        },
        {
          "data": {"values": [{"cat": "9:00", "y": 1.143, "t": "2d"}]},
          "mark": {"type": "text", "fontSize": 28, "fontWeight": "bold", "align": "left", "dx": -120.3, "baseline": "alphabetic", "color": "#000"},
          "encoding": {
            "y": {"field": "y", "type": "quantitative", "scale": {"domain": [0, 1], "nice": false}, "axis": {"format": ".0%", "values": [0, 0.1, 0.2, 0.3, 0.4, 0.5, 0.6, 0.7, 0.8, 0.9, 1], "offset": -23}},
            "text": {"field": "t"}
          }
        }
      ]
    }
  ]
}
